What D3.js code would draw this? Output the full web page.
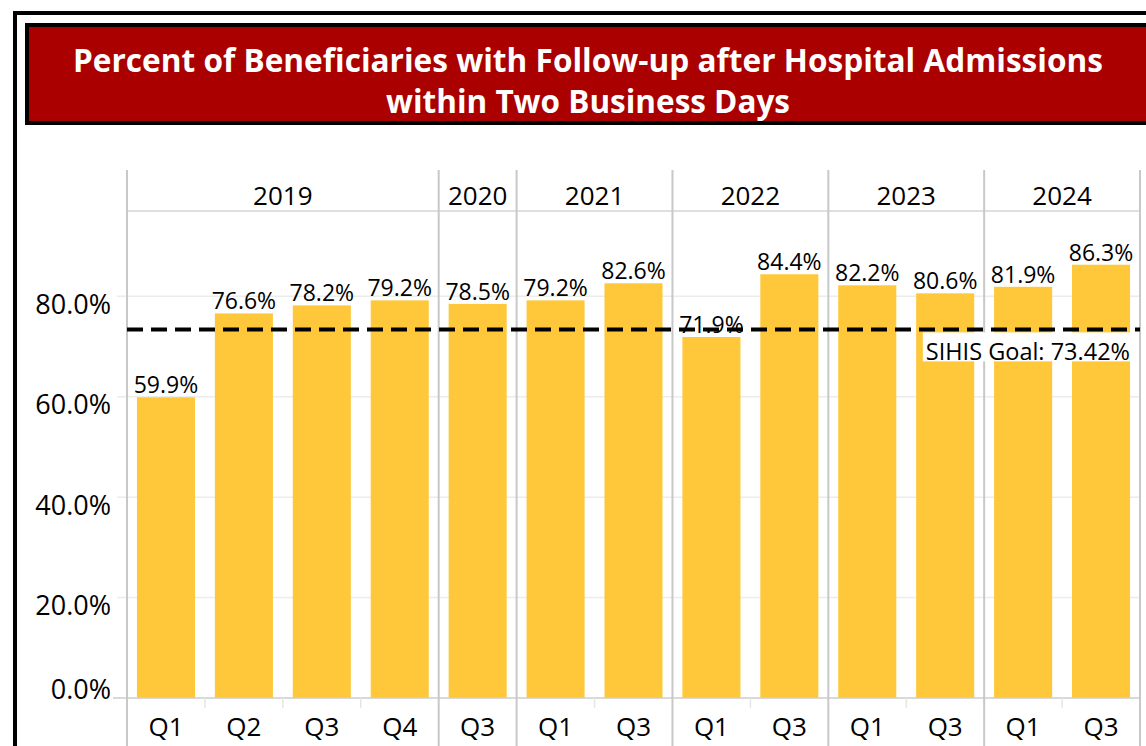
<!DOCTYPE html>
<head>
    <script src="https://d3js.org/d3.v7.min.js"></script>
</head>
<style>
body {
    margin: 0;
    background: #fff;
    font-family: "Open Sans", "Noto Sans", Arial, sans-serif;
}
</style>
<body>
<svg></svg>
<script>

    // Data
    var years    = ["2019","2019","2019","2019","2020","2021","2021","2022","2022","2023","2023","2024","2024"];
    var quarters = ["Q1","Q2","Q3","Q4","Q3","Q1","Q3","Q1","Q3","Q1","Q3","Q1","Q3"];
    var values   = [59.9, 76.6, 78.2, 79.2, 78.5, 79.2, 82.6, 71.9, 84.4, 82.2, 80.6, 81.9, 86.3];
    var yTicks   = [0, 20, 40, 60, 80];
    var goal     = 73.42;
    var titleLines = ["Percent of Beneficiaries with Follow-up after Hospital Admissions",
                      "within Two Business Days"];

    var width = 1146, height = 746;
    var plotLeft = 127, plotRight = 1140, headTop = 170, plotTop = 211, plotBottom = 698;

    var svg = d3.select('svg').attr('width', width).attr('height', height);

    // outer frame + title box
    svg.append('rect').attr('x', 15).attr('y', 13).attr('width', 1200).attr('height', 800)
        .attr('fill', 'none').attr('stroke', '#000').attr('stroke-width', 4);
    svg.append('rect').attr('x', 27).attr('y', 25).attr('width', 1200).attr('height', 98)
        .attr('fill', '#aa0000').attr('stroke', '#000').attr('stroke-width', 4);

    var titleWidths = [1030, 404];
    var titleBase = [72, 113];
    titleLines.forEach(function (t, i) {
        svg.append('text')
            .attr('x', 588).attr('y', titleBase[i])
            .attr('text-anchor', 'middle')
            .attr('fill', '#fff')
            .attr('font-weight', 'bold')
            .attr('font-size', 33)
            .attr('textLength', titleWidths[i])
            .attr('lengthAdjust', 'spacingAndGlyphs')
            .text(t);
    });

    var idx = d3.range(values.length);
    var x = d3.scaleBand().domain(idx).range([plotLeft, plotRight]).paddingInner(0.255).paddingOuter(0.1275);
    var y = d3.scaleLinear().domain([0, 97]).range([plotBottom, plotTop]);
    var step = x.step();
    var edge = function (i) { return x(i) - x.paddingOuter() * step; };

    // gridlines
    svg.append('g').selectAll('line').data(yTicks.filter(function (d) { return d > 0; }))
        .enter().append('line')
        .attr('x1', 117).attr('x2', plotRight)
        .attr('y1', function (d) { return y(d); }).attr('y2', function (d) { return y(d); })
        .attr('stroke', '#ececec').attr('stroke-width', 1.5);

    // y labels
    svg.append('g').selectAll('text').data(yTicks).enter().append('text')
        .attr('x', 111)
        .attr('y', function (d) { return Math.min(y(d) + 8, plotBottom - 8); })
        .attr('dy', '0.35em')
        .attr('text-anchor', 'end')
        .attr('font-size', 27)
        .attr('fill', '#000')
        .text(function (d) { return d.toFixed(1) + '%'; });

    // bars
    svg.append('g').selectAll('rect').data(values).enter().append('rect')
        .attr('x', function (d, i) { return x(i); })
        .attr('width', x.bandwidth())
        .attr('y', function (d) { return y(d); })
        .attr('height', function (d) { return y(0) - y(d); })
        .attr('fill', '#fec83a');

    // value labels
    svg.append('g').selectAll('text').data(values).enter().append('text')
        .attr('x', function (d, i) { return x(i) + x.bandwidth() / 2; })
        .attr('y', function (d) { return y(d) - 4; })
        .attr('text-anchor', 'middle')
        .attr('font-size', 23)
        .attr('fill', '#000')
        .text(function (d) { return d.toFixed(1) + '%'; });

    // year groups
    var groups = [];
    years.forEach(function (yr, i) {
        if (!groups.length || groups[groups.length - 1].year !== yr) groups.push({year: yr, start: i, end: i});
        else groups[groups.length - 1].end = i;
    });

    // axis frame
    svg.append('line').attr('x1', plotLeft).attr('x2', plotRight).attr('y1', plotTop).attr('y2', plotTop)
        .attr('stroke', '#d4d4d4').attr('stroke-width', 1.5);
    svg.append('line').attr('x1', 113).attr('x2', plotRight).attr('y1', plotBottom).attr('y2', plotBottom)
        .attr('stroke', '#cccccc').attr('stroke-width', 1.5);

    // minor ticks inside a year
    svg.append('g').selectAll('line').data(idx.filter(function (i) { return i > 0 && years[i] === years[i - 1]; }))
        .enter().append('line')
        .attr('x1', function (i) { return edge(i); }).attr('x2', function (i) { return edge(i); })
        .attr('y1', plotBottom).attr('y2', plotBottom + 10)
        .attr('stroke', '#e6e6e6').attr('stroke-width', 1.5);

    // year dividers
    var dividers = groups.map(function (g) { return edge(g.start); }).concat([plotRight]);
    svg.append('g').selectAll('line').data(dividers).enter().append('line')
        .attr('x1', function (d) { return d; }).attr('x2', function (d) { return d; })
        .attr('y1', headTop).attr('y2', height)
        .attr('stroke', '#c8c8c8').attr('stroke-width', 2);

    // year labels
    svg.append('g').selectAll('text').data(groups).enter().append('text')
        .attr('x', function (g) { return (edge(g.start) + edge(g.end) + step) / 2; })
        .attr('y', 205)
        .attr('text-anchor', 'middle')
        .attr('font-size', 26)
        .attr('fill', '#000')
        .text(function (g) { return g.year; });

    // quarter labels
    svg.append('g').selectAll('text').data(quarters).enter().append('text')
        .attr('x', function (d, i) { return x(i) + x.bandwidth() / 2; })
        .attr('y', 736)
        .attr('text-anchor', 'middle')
        .attr('font-size', 26)
        .attr('fill', '#000')
        .text(function (d) { return d; });

    // goal line
    svg.append('line')
        .attr('x1', plotLeft).attr('x2', plotRight)
        .attr('y1', y(goal)).attr('y2', y(goal))
        .attr('stroke', '#000').attr('stroke-width', 4)
        .attr('stroke-dasharray', '16,8');

    var goalBase = y(goal) + 31;
    var goalText = svg.append('text')
        .attr('x', 1130).attr('y', goalBase)
        .attr('text-anchor', 'end')
        .attr('font-size', 23.5)
        .attr('fill', '#000')
        .text('SIHIS Goal: ' + goal.toFixed(2) + '%');
    var bb = goalText.node().getBBox();
    svg.insert('rect', function () { return goalText.node(); })
        .attr('x', bb.x - 3).attr('width', bb.width + 8)
        .attr('y', y(goal) + 3).attr('height', goalBase - y(goal) - 2)
        .attr('fill', '#fff');

</script>
</body>
